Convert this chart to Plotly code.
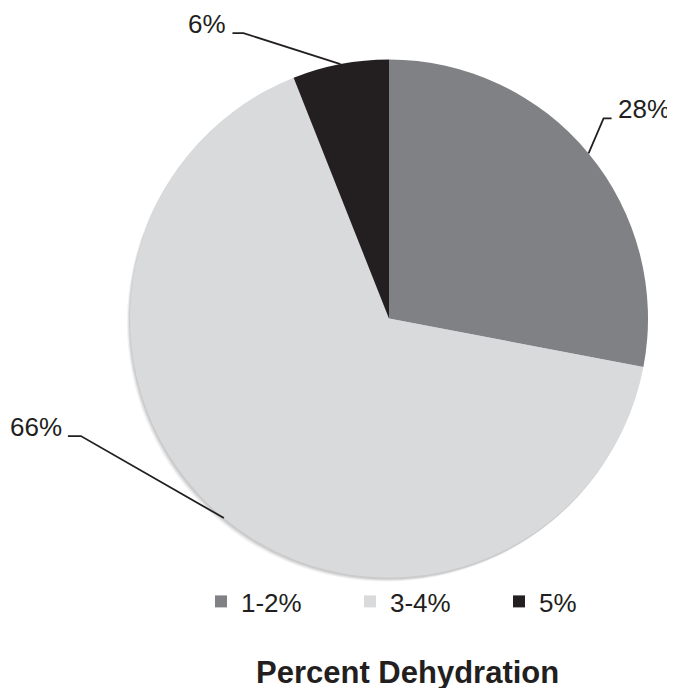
import math
import plotly.graph_objects as go

labels = ["1-2%", "3-4%", "5%"]
values = [28, 66, 6]
colors = ["#808184", "#d9dadc", "#231f20"]
label_texts = ["28%", "66%", "6%"]
title_text = "Percent Dehydration"

# the page body has an 8px default margin; figure is sized to fit the window
OFF = 8
W, H = 675 - OFF, 688 - OFF
CX, CY, R = 389, 318.5, 259   # pie centre / radius in window pixels

def px2paper(x, y):
    return (x - OFF) / W, 1 - (y - OFF) / H

def pie_domain(cx, cy, r):
    x0, y1 = px2paper(cx - r, cy - r)
    x1, y0 = px2paper(cx + r, cy + r)
    return dict(x=[x0, x1], y=[y0, y1])

fig = go.Figure()
# soft drop shadow (a few faint, slightly offset discs behind the pie)
for dx, dy, a in [(-3, 4, 0.05), (-2, 3, 0.07), (-1, 2, 0.09)]:
    fig.add_trace(go.Pie(
        values=[sum(values)], labels=["shadow"], sort=False, showlegend=False,
        marker=dict(colors=[f"rgba(0,0,0,{a})"], line=dict(width=0)),
        textinfo="none", hoverinfo="skip",
        domain=pie_domain(CX + dx, CY + dy, R),
    ))
fig.add_trace(go.Pie(
    labels=labels, values=values, sort=False, direction="clockwise", rotation=0,
    marker=dict(colors=colors, line=dict(width=0)),
    textinfo="none", hoverinfo="label+percent",
    domain=pie_domain(CX, CY, R),
))

# leader line offsets (elbow dx, dy, horizontal run) per slice
leader = {"28%": (15, -35, 8), "66%": (-143, -82, -13), "6%": (-97, -31, -11)}

shapes, annos = [], []
total = sum(values)
cum = 0
for v, t in zip(values, label_texts):
    mid = (cum + v / 2) / total * 2 * math.pi
    cum += v
    ex, ey = CX + R * math.sin(mid), CY - R * math.cos(mid)
    dx, dy, run = leader[t]
    bx, by = ex + dx, ey + dy
    hx = bx + run
    p0, p1, p2 = px2paper(ex, ey), px2paper(bx, by), px2paper(hx, by)
    shapes.append(dict(type="path", xref="paper", yref="paper",
                       path=f"M {p0[0]} {p0[1]} L {p1[0]} {p1[1]} L {p2[0]} {p2[1]}",
                       line=dict(color="#231f20", width=1.8)))
    tx, ty = px2paper(hx + (4 if run > 0 else -4), by - 9)
    annos.append(dict(x=tx, y=ty, xref="paper", yref="paper", text=t, showarrow=False,
                      xanchor="left" if run > 0 else "right", yanchor="middle",
                      font=dict(size=26, color="#231f20", family="Liberation Sans, Arial")))

tx, ty = px2paper(407.5, 672)
annos.append(dict(x=tx, y=ty, xref="paper", yref="paper",
                  text=f"<b>{title_text}</b>", showarrow=False,
                  xanchor="center", yanchor="middle",
                  font=dict(size=31, color="#231f20", family="Liberation Sans, Arial")))

lx, ly = px2paper(201, 578)
fig.update_layout(
    width=W, height=H, margin=dict(l=0, r=0, t=0, b=0),
    paper_bgcolor="white", plot_bgcolor="white",
    shapes=shapes, annotations=annos,
    showlegend=True,
    legend=dict(orientation="h", x=lx, xanchor="left", y=ly, yanchor="top",
                entrywidth=104, entrywidthmode="pixels",
                font=dict(size=26, color="#231f20", family="Liberation Sans, Arial"),
                bgcolor="rgba(0,0,0,0)"),
)

fig.write_html("out.html")
